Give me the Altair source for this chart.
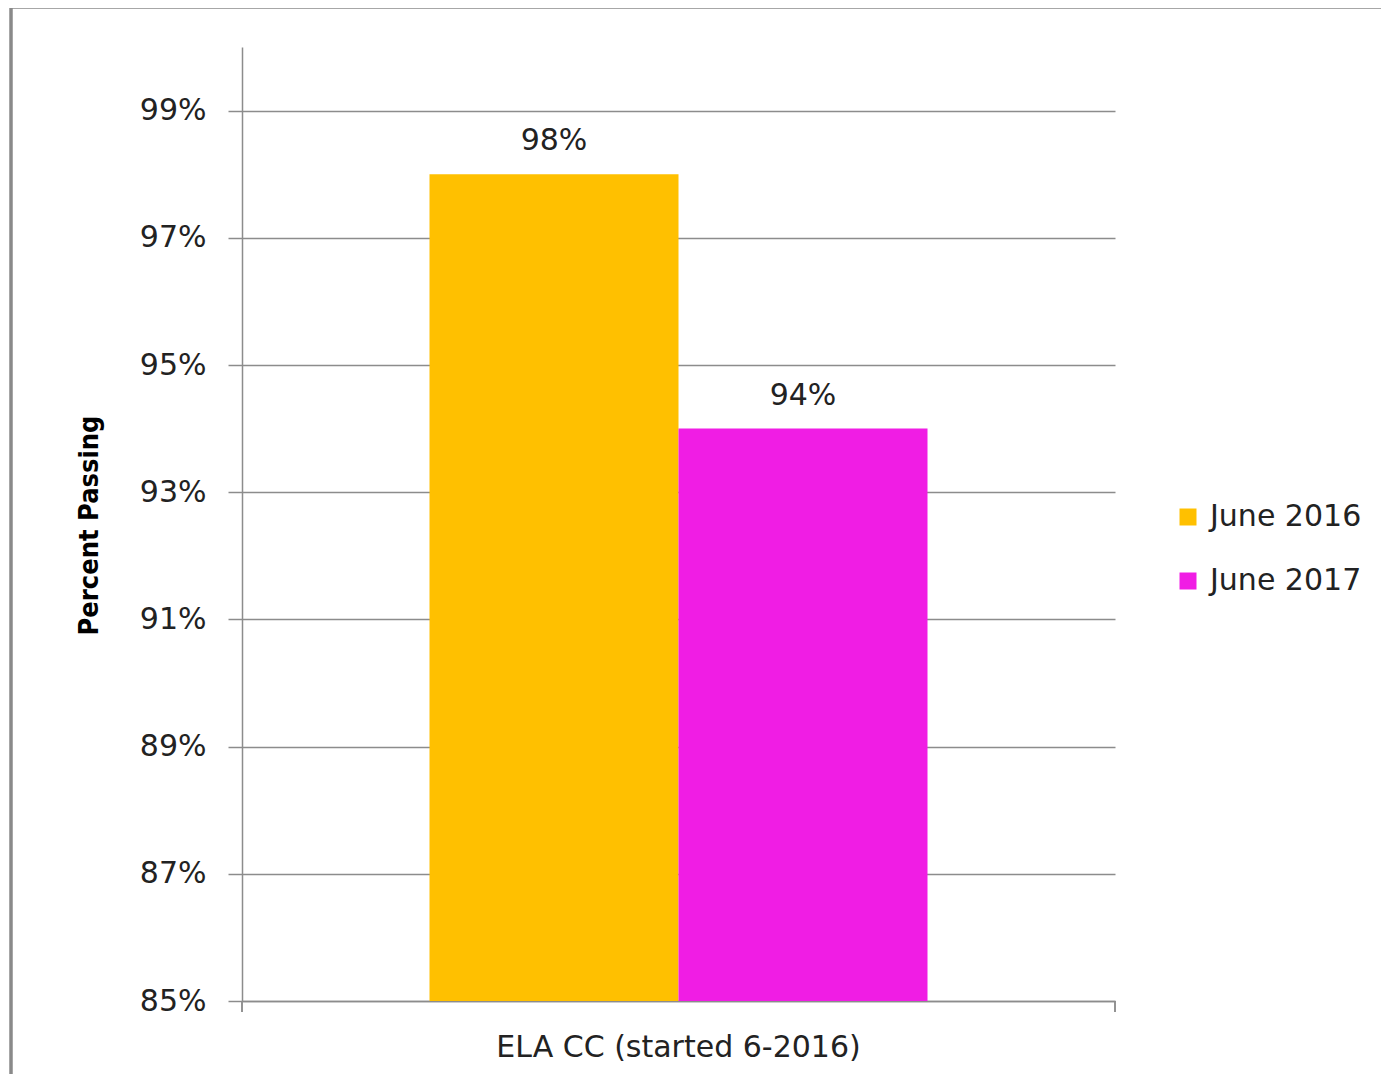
import altair as alt
import pandas as pd

category = ["ELA CC (started 6-2016)", "ELA CC (started 6-2016)"]
series = ["June 2016", "June 2017"]
values = [98, 94]
y_ticks = [85, 87, 89, 91, 93, 95, 97, 99]
colors = ["#FFC000", "#F01DE4"]

df = pd.DataFrame({"cat": category, "series": series, "value": values})

W, H = 873, 954
FONT = "DejaVu Sans"
FS = 30
GREY = "#8c8c8c"

x_enc = alt.X("cat:N", title=None,
              scale=alt.Scale(paddingOuter=0.3765, paddingInner=0),
              axis=alt.Axis(labelAngle=0, ticks=False, labelPadding=31, labelLimit=0,
                            labelFontSize=FS, labelFont=FONT, labelColor="#222222",
                            domainColor=GREY, domainWidth=1.5))
xo_enc = alt.XOffset("series:N", scale=alt.Scale(paddingInner=0, paddingOuter=0))
y_enc = alt.Y("value:Q", title="Percent Passing",
              scale=alt.Scale(domain=[85, 100], zero=False, nice=False),
              axis=alt.Axis(values=y_ticks, labelExpr="datum.value + '%'",
                            labelFontSize=FS, labelFont=FONT, labelColor="#222222",
                            labelPadding=22, tickSize=14, tickColor=GREY, tickWidth=1.5,
                            domainColor=GREY, domainWidth=1.5,
                            grid=True, gridColor=GREY, gridWidth=1.5,
                            titleFont="DejaVu Sans Condensed", titleFontSize=27,
                            titleFontWeight="bold", titleColor="#000000",
                            titleX=-139, titleY=478, titleAngle=270,
                            titleBaseline="bottom", titleAlign="center"))

bars = alt.Chart(df).mark_bar().encode(
    x=x_enc, xOffset=xo_enc, y=y_enc, y2=alt.datum(85),
    color=alt.Color("series:N", scale=alt.Scale(domain=series, range=colors),
                    legend=alt.Legend(title=None, orient="none", legendX=931, legendY=455,
                                      symbolType="square", symbolSize=289,
                                      symbolStrokeWidth=0, labelFontSize=FS,
                                      labelFont=FONT, labelColor="#222222",
                                      labelOffset=7, rowPadding=34)),
)

labels = alt.Chart(df).transform_calculate(
    label="datum.value + '%'"
).mark_text(fontSize=FS, font=FONT, color="#222222", baseline="alphabetic", dy=-24).encode(
    x=alt.X("cat:N"), xOffset=alt.XOffset("series:N"), y=alt.Y("value:Q"),
    text="label:N",
)

border = alt.Chart(df).mark_rect(fill=None, stroke="#8a8a8a", strokeWidth=3).encode(
    x=alt.value(-231), x2=alt.value(1170), y=alt.value(-40), y2=alt.value(1100)
)
tick_l = alt.Chart(df).mark_rule(color=GREY, strokeWidth=1.5).encode(
    x=alt.value(0), y=alt.value(H), y2=alt.value(H + 11)
)
tick_r = alt.Chart(df).mark_rule(color=GREY, strokeWidth=1.5).encode(
    x=alt.value(W), y=alt.value(H), y2=alt.value(H + 11)
)

chart = alt.layer(bars, labels, tick_l, tick_r, border).properties(
    width=W, height=H,
    background="white",
    autosize=alt.AutoSizeParams(type="none"),
    padding={"left": 234, "top": 39, "right": 266, "bottom": 73},
).configure_view(strokeWidth=0, stroke="transparent")

chart.save("out.html", embed_options={"renderer": "svg", "actions": False})
